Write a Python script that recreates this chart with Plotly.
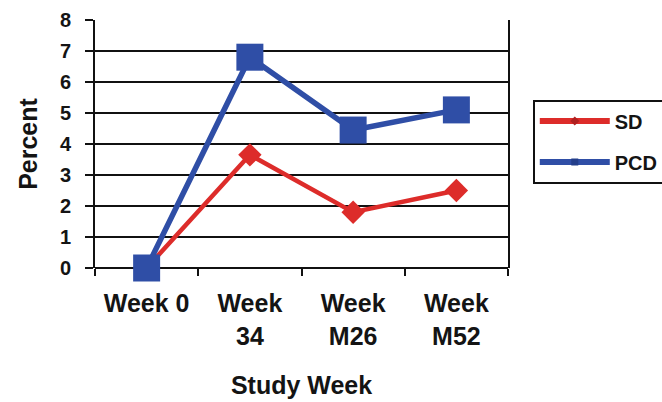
import plotly.graph_objects as go

weeks = ["Week 0", "Week<br>34", "Week<br>M26", "Week<br>M52"]
sd_values = [0.0, 3.65, 1.8, 2.5]
pcd_values = [0.0, 6.8, 4.45, 5.1]
y_ticks = [0, 1, 2, 3, 4, 5, 6, 7, 8]

RED = "#DD2C2A"
BLUE = "#2F4EA6"
INK = "#141414"
FONT = "Liberation Sans, Arial, sans-serif"

fig = go.Figure()

# plotted series (legend entries are drawn by the compact legend-only traces below)
fig.add_trace(go.Scatter(
    x=weeks, y=sd_values, name="SD", mode="lines+markers",
    line=dict(color=RED, width=4.5),
    marker=dict(symbol="diamond", size=18, color=RED),
    cliponaxis=False, showlegend=False,
))
fig.add_trace(go.Scatter(
    x=weeks, y=pcd_values, name="PCD", mode="lines+markers",
    line=dict(color=BLUE, width=5.5),
    marker=dict(symbol="square", size=27, color=BLUE),
    cliponaxis=False, showlegend=False,
))

# legend keys with small markers
fig.add_trace(go.Scatter(
    x=[None], y=[None], name="SD", mode="lines+markers",
    line=dict(color=RED, width=6), marker=dict(symbol="diamond", size=7, color="#B02020"),
    legendgroup="sd",
))
fig.add_trace(go.Scatter(
    x=[None], y=[None], name="PCD", mode="lines+markers",
    line=dict(color=BLUE, width=6), marker=dict(symbol="square", size=7, color="#233E8A"),
    legendgroup="pcd",
))

fig.update_layout(
    width=662, height=402,
    margin=dict(l=95, r=154, t=20, b=134, autoexpand=False),
    paper_bgcolor="white", plot_bgcolor="white",
    font=dict(family=FONT, color=INK, weight="bold"),
    showlegend=True,
    legend=dict(
        x=1.06, xanchor="left", y=0.51, yanchor="middle",
        bordercolor="#111111", borderwidth=2, bgcolor="white",
        font=dict(family=FONT, size=20, color=INK, weight="bold"),
        itemwidth=70, traceorder="grouped", tracegroupgap=12,
    ),
    xaxis=dict(
        type="category", range=[-0.5, 3.5],
        showgrid=False, zeroline=False,
        showline=False,
        ticks="outside", tickson="boundaries", ticklen=7, tickwidth=2, tickcolor="#111111",
        tickfont=dict(family=FONT, size=25, color=INK, weight="bold"),
        ticklabelstandoff=18,
        title=dict(text="Study Week", font=dict(family=FONT, size=25, color=INK, weight="bold"),
                   standoff=27),
    ),
    yaxis=dict(
        range=[0, 8], tickvals=y_ticks,
        showgrid=True, gridcolor="#111111", gridwidth=2,
        zeroline=True, zerolinecolor="#111111", zerolinewidth=2,
        showline=True, linecolor="#111111", linewidth=2, mirror=True,
        ticks="outside", ticklen=8, tickwidth=2, tickcolor="#111111",
        tickfont=dict(family=FONT, size=20, color=INK, weight="bold"),
        ticklabelstandoff=10,
        title=dict(text="Percent", font=dict(family=FONT, size=25, color=INK, weight="bold"),
                   standoff=15),
    ),
)

fig.write_html("out.html")
